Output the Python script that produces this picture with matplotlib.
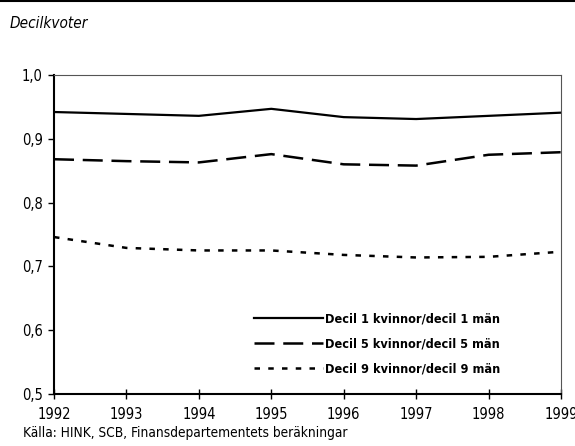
import matplotlib
matplotlib.use("Agg")
import matplotlib.pyplot as plt

plt.rcParams["font.family"] = ["DejaVu Sans"]
plt.rcParams["font.stretch"] = "condensed"

years = [1992, 1993, 1994, 1995, 1996, 1997, 1998, 1999]
decil1 = [0.942, 0.939, 0.936, 0.947, 0.934, 0.931, 0.936, 0.941]
decil5 = [0.868, 0.865, 0.863, 0.876, 0.860, 0.858, 0.875, 0.879]
decil9 = [0.746, 0.729, 0.725, 0.725, 0.718, 0.714, 0.715, 0.723]
labels = ["Decil 1 kvinnor/decil 1 män",
          "Decil 5 kvinnor/decil 5 män",
          "Decil 9 kvinnor/decil 9 män"]
yticks = [0.5, 0.6, 0.7, 0.8, 0.9, 1.0]

fig = plt.figure(figsize=(5.75, 4.46), dpi=100)
ax = fig.add_axes([0.0939, 0.1166, 0.8818, 0.7152])

ax.plot(years, decil1, color="black", lw=1.6, label=labels[0])
ax.plot(years, decil5, color="black", lw=1.8, dashes=(8, 3.5), label=labels[1])
ax.plot(years, decil9, color="black", lw=1.8, dashes=(2.2, 3.3), label=labels[2])

ax.set_xlim(1992, 1999)
ax.set_ylim(0.5, 1.0)
ax.set_xticks(years)
ax.set_yticks(yticks)
ax.set_yticklabels([f"{v:.1f}".replace(".", ",") for v in yticks])
ax.tick_params(axis="x", direction="inout", length=7, width=1, labelsize=10.5, pad=6)
ax.tick_params(axis="y", direction="out", length=4, width=1, labelsize=10.5, pad=4)

for s in ["left", "bottom"]:
    ax.spines[s].set_linewidth(1.5)
for s in ["top", "right"]:
    ax.spines[s].set_linewidth(0.8)
    ax.spines[s].set_color("#555555")

leg = ax.legend(loc="lower left", bbox_to_anchor=(0.372, 0.022), frameon=False,
                handlelength=5.5, handletextpad=0.1, labelspacing=0.95,
                prop={"size": 9.1, "weight": "bold"})

fig.text(0.017, 0.947, "Decilkvoter", fontsize=11, style="italic", va="center")
fig.text(0.04, 0.03, "Källa: HINK, SCB, Finansdepartementets beräkningar",
         fontsize=9.8, va="center")
fig.add_artist(plt.Line2D([0, 1], [0.998, 0.998], color="black", lw=1.5,
                          transform=fig.transFigure))

fig.savefig("out.png", dpi=100)
